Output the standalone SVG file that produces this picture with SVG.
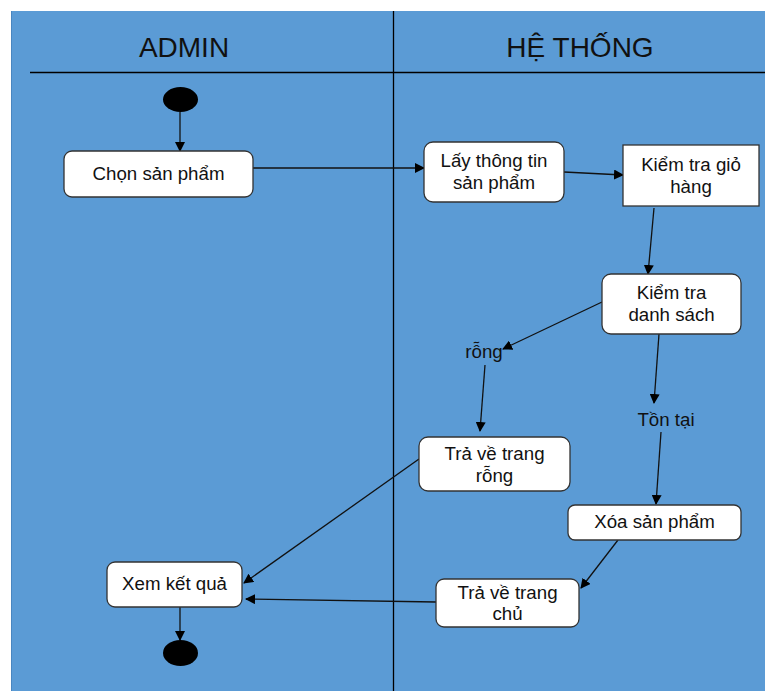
<svg xmlns="http://www.w3.org/2000/svg" width="765" height="691" viewBox="0 0 765 691">
  <defs>
    <marker id="arrow" markerWidth="10" markerHeight="10" refX="9" refY="5" orient="auto" markerUnits="userSpaceOnUse">
      <path d="M0,0 L10,5 L0,10 Z" fill="#000"/>
    </marker>
    <style>
      .node { fill: #fff; stroke: #333; stroke-width: 1.3; }
      .label { font-family: "Liberation Sans", Arial, sans-serif; font-size: 18.7px; fill: #111; text-anchor: middle; }
      .head { font-family: "Liberation Sans", Arial, sans-serif; font-size: 28px; fill: #111; text-anchor: middle; }
      .edge { stroke: #111; stroke-width: 1.3; fill: none; marker-end: url(#arrow); }
      .lane { stroke: #000; stroke-width: 1.3; }
    </style>
  </defs>

  <rect width="765" height="691" fill="#fff"/>
  <!-- swimlane background -->
  <rect x="11" y="11" width="754" height="680" fill="#5b9bd5"/>
  <line x1="11.5" y1="11" x2="11.5" y2="691" stroke="#4a86c0" stroke-width="1"/>

  <g id="lanes">
    <line class="lane" x1="393.5" y1="11" x2="393.5" y2="691"/>
    <line class="lane" x1="30" y1="72.5" x2="765" y2="72.5"/>
    <text class="head" x="184" y="57">ADMIN</text>
    <text class="head" x="580" y="57">HỆ THỐNG</text>
  </g>

  <g id="connectors">
    <line class="edge" x1="180" y1="112" x2="180" y2="151"/>
    <line class="edge" x1="253" y1="168" x2="424" y2="168"/>
    <line class="edge" x1="564" y1="172" x2="623" y2="175"/>
    <line class="edge" x1="654" y1="208" x2="648" y2="274"/>
    <line class="edge" x1="602" y1="302" x2="503" y2="349"/>
    <line class="edge" x1="485" y1="365" x2="480" y2="431"/>
    <line class="edge" x1="659" y1="334" x2="654" y2="403"/>
    <line class="edge" x1="661" y1="432" x2="656" y2="504"/>
    <line class="edge" x1="618" y1="540" x2="581" y2="588"/>
    <line class="edge" x1="436" y1="602" x2="246" y2="599"/>
    <line class="edge" x1="419" y1="459" x2="244" y2="583"/>
    <line class="edge" x1="180" y1="607" x2="180" y2="640"/>
  </g>

  <g id="start">
    <ellipse cx="180.5" cy="99.5" rx="17.5" ry="12.5" fill="#000"/>
  </g>

  <g id="chon-san-pham">
    <rect class="node" x="64" y="151" width="189" height="46" rx="8"/>
    <text class="label" x="158.5" y="180">Chọn sản phẩm</text>
  </g>

  <g id="lay-thong-tin">
    <rect class="node" x="424" y="142" width="140" height="60" rx="9"/>
    <text class="label" x="494" y="167">Lấy thông tin</text>
    <text class="label" x="494" y="189">sản phẩm</text>
  </g>

  <g id="kiem-tra-gio-hang">
    <rect class="node" x="623" y="145" width="136" height="61"/>
    <text class="label" x="691" y="171">Kiểm tra giỏ</text>
    <text class="label" x="691" y="193">hàng</text>
  </g>

  <g id="kiem-tra-danh-sach">
    <rect class="node" x="602" y="274" width="139" height="60" rx="9"/>
    <text class="label" x="671.5" y="299">Kiểm tra</text>
    <text class="label" x="671.5" y="321">danh sách</text>
  </g>

  <g id="label-rong">
    <text class="label" x="484" y="358">rỗng</text>
  </g>

  <g id="label-ton-tai">
    <text class="label" x="666" y="426">Tồn tại</text>
  </g>

  <g id="tra-ve-trang-rong">
    <rect class="node" x="419" y="437" width="151" height="54" rx="9"/>
    <text class="label" x="494.5" y="460">Trả về trang</text>
    <text class="label" x="494.5" y="482">rỗng</text>
  </g>

  <g id="xoa-san-pham">
    <rect class="node" x="568" y="505" width="173" height="35" rx="7"/>
    <text class="label" x="654.5" y="528">Xóa sản phẩm</text>
  </g>

  <g id="tra-ve-trang-chu">
    <rect class="node" x="436" y="579" width="143" height="48" rx="8"/>
    <text class="label" x="507.5" y="599">Trả về trang</text>
    <text class="label" x="507.5" y="620">chủ</text>
  </g>

  <g id="xem-ket-qua">
    <rect class="node" x="107" y="562" width="135" height="45" rx="8"/>
    <text class="label" x="174.5" y="590">Xem kết quả</text>
  </g>

  <g id="end">
    <ellipse cx="180.5" cy="653" rx="17.5" ry="13" fill="#000"/>
  </g>
</svg>
